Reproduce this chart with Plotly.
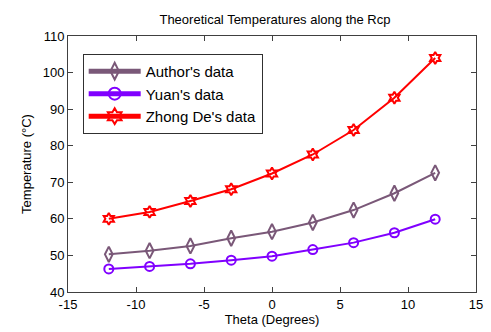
import plotly.graph_objects as go

theta = [-12, -9, -6, -3, 0, 3, 6, 9, 12]
author = [50.3, 51.3, 52.6, 54.7, 56.5, 59.0, 62.4, 67.0, 72.6]
yuan = [46.3, 47.0, 47.7, 48.7, 49.8, 51.6, 53.5, 56.2, 59.9]
zhong = [60.0, 61.9, 64.9, 68.1, 72.4, 77.6, 84.3, 93.1, 104.0]

x_ticks = [-15, -10, -5, 0, 5, 10, 15]
y_ticks = [40, 50, 60, 70, 80, 90, 100, 110]

family = "Liberation Sans, Arial, sans-serif"
font = dict(family=family, size=13, color="black")

fig = go.Figure()
series = [
    ("Author's data", author, "#7a5878", "diamond-tall-open", 11),
    ("Yuan's data", yuan, "#8000ff", "circle-open", 9),
    ("Zhong De's data", zhong, "#ff0000", "hexagram-open", 9),
]
for name, vals, color, sym, size in series:
    fig.add_trace(go.Scatter(
        x=theta, y=vals, name=name, mode="lines+markers",
        line=dict(color=color, width=2),
        marker=dict(symbol=sym, size=size, color=color, line=dict(color=color, width=2)),
    ))

axis_common = dict(
    showgrid=False, zeroline=False, showline=True, linecolor="#404040", linewidth=1,
    mirror="ticks", ticks="inside", ticklen=5, tickcolor="#404040",
    tickfont=font,
)
fig.update_xaxes(range=[-15, 15], tickvals=x_ticks, ticktext=[str(v) for v in x_ticks],
                 title=dict(text="Theta (Degrees)", font=font, standoff=2), **axis_common)
fig.update_yaxes(range=[40, 110], tickvals=y_ticks, ticktext=[str(v) for v in y_ticks],
                 title=dict(text="Temperature (°C)", font=font, standoff=8), **axis_common)

fig.update_layout(
    width=491, height=332,
    margin=dict(l=68, r=8, t=36, b=40),
    paper_bgcolor="white", plot_bgcolor="white",
    font=font,
    title=dict(text="Theoretical Temperatures along the Rcp", x=0.56, xanchor="center",
               y=0.94, yanchor="middle", font=dict(family=family, size=13, color="black")),
    legend=dict(x=0.036, y=0.93, xanchor="left", yanchor="top",
                bordercolor="#303030", borderwidth=1, bgcolor="white",
                font=dict(family=family, size=15, color="black"),
                tracegroupgap=1, itemsizing="constant", itemwidth=52),
    showlegend=True,
)

fig.write_html("out.html")
